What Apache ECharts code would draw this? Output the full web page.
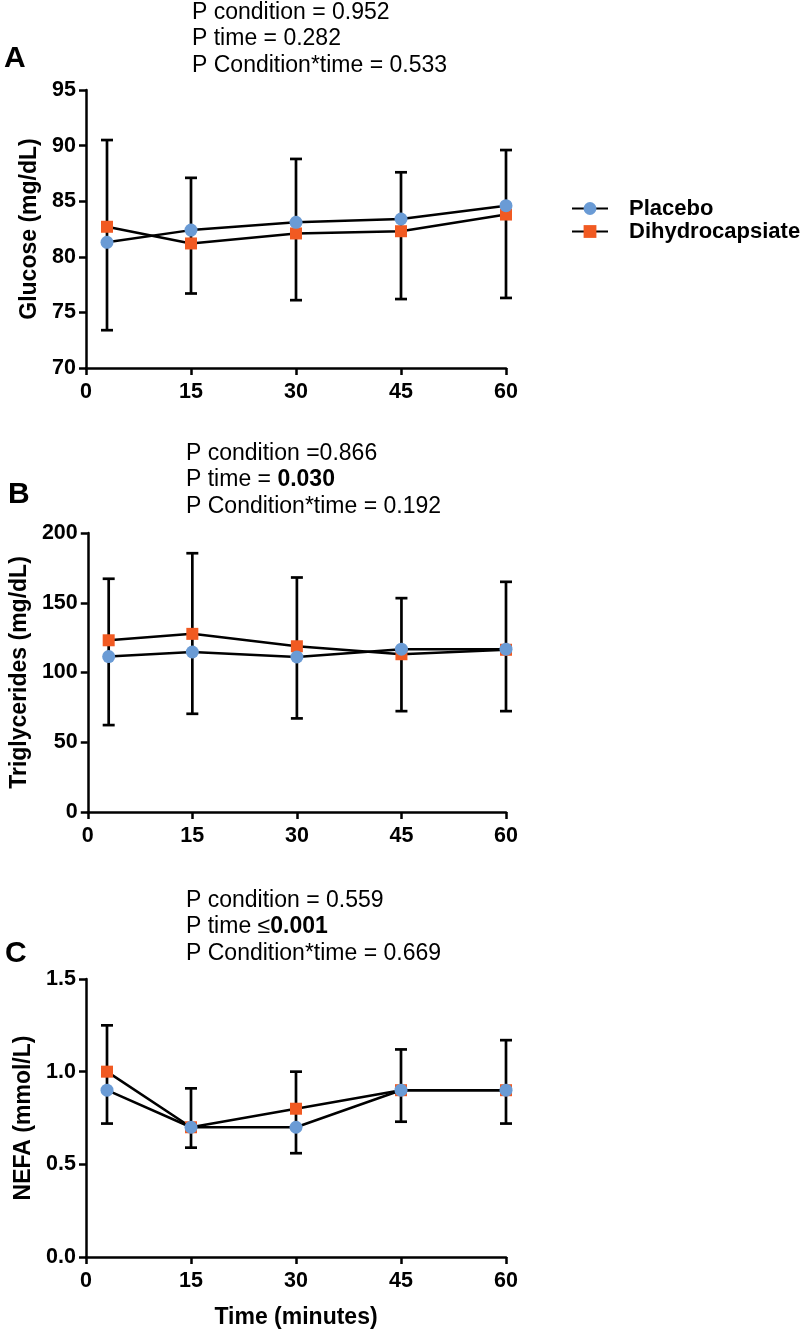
<!DOCTYPE html>
<html>
<head>
<meta charset="utf-8">
<script src="https://cdn.jsdelivr.net/npm/echarts@6/dist/echarts.min.js"></script>
<style>
  html, body { margin: 0; padding: 0; background: #fff; }
  #main { width: 800px; height: 1332px; }
</style>
</head>
<body>
<div id="main"></div>
<script>
// time points (minutes)
var times = [3, 15, 30, 45, 60];
var xTicks = [0, 15, 30, 45, 60];

// A - glucose
var glucosePlacebo = [81.3, 82.4, 83.1, 83.4, 84.6];
var glucoseDihydro = [82.7, 81.2, 82.1, 82.3, 83.8];
var glucoseErrHigh = [90.5, 87.1, 88.8, 87.6, 89.6];
var glucoseErrLow = [73.4, 76.7, 76.1, 76.2, 76.3];

// B - triglycerides
var tgPlacebo = [111.4, 114.7, 111.1, 116.7, 116.7];
var tgDihydro = [123.1, 127.7, 118.8, 113.1, 116.3];
var tgErrHigh = [167.2, 185.5, 168.1, 153.3, 165.0];
var tgErrLow = [62.3, 70.4, 67.1, 72.3, 72.3];

// C - NEFA
var nefaPlacebo = [0.9, 0.7, 0.7, 0.9, 0.9];
var nefaDihydro = [1.0, 0.7, 0.8, 0.9, 0.9];
var nefaErrHigh = [1.25, 0.91, 1.0, 1.12, 1.17];
var nefaErrLow = [0.72, 0.59, 0.56, 0.73, 0.72];

var FONT = '"Liberation Sans", Arial, Helvetica, sans-serif';
var BLUE = '#6a9bd5';
var ORANGE = '#f15a22';

function pairs(ys) {
  return times.map(function (t, i) { return [t, ys[i]]; });
}
function errData(lo, hi) {
  return times.map(function (t, i) { return [t, lo[i], hi[i]]; });
}

// vertical error bar with caps
function renderErr(params, api) {
  var x = api.value(0);
  var lo = api.coord([x, api.value(1)]);
  var hi = api.coord([x, api.value(2)]);
  var w = 6;
  var st = { stroke: '#000', lineWidth: 2.7 };
  return {
    type: 'group',
    children: [
      { type: 'line', shape: { x1: lo[0], y1: lo[1], x2: hi[0], y2: hi[1] }, style: st },
      { type: 'line', shape: { x1: hi[0] - w, y1: hi[1], x2: hi[0] + w, y2: hi[1] }, style: st },
      { type: 'line', shape: { x1: lo[0] - w, y1: lo[1], x2: lo[0] + w, y2: lo[1] }, style: st }
    ]
  };
}

var axisLineStyle = { lineStyle: { color: '#000', width: 2.5 } };
var tickStyle = { show: true, inside: false, length: 7, lineStyle: { color: '#000', width: 2.5 } };
var labelStyle = { color: '#000', fontFamily: FONT, fontWeight: 'bold', fontSize: 21.5 };

function makeX(idx, withName) {
  return {
    type: 'value', gridIndex: idx, min: 0, max: 60, interval: 15,
    axisLine: axisLineStyle, axisTick: tickStyle,
    axisLabel: Object.assign({ margin: 13, customValues: xTicks }, labelStyle),
    splitLine: { show: false },
    name: withName ? 'Time (minutes)' : '',
    nameLocation: 'middle', nameGap: 49,
    nameTextStyle: { color: '#000', fontFamily: FONT, fontWeight: 'bold', fontSize: 23 }
  };
}
function makeY(idx, min, max, interval, name, gap, digits) {
  return {
    type: 'value', gridIndex: idx, min: min, max: max, interval: interval,
    axisLine: Object.assign({ show: true }, axisLineStyle), axisTick: tickStyle,
    axisLabel: Object.assign({
      margin: 10,
      formatter: function (v) { return digits ? v.toFixed(digits) : String(v); }
    }, labelStyle),
    splitLine: { show: false },
    name: name, nameLocation: 'middle', nameRotate: 90, nameGap: gap,
    nameTextStyle: { color: '#000', fontFamily: FONT, fontWeight: 'bold', fontSize: 23 }
  };
}

function panelSeries(idx, placebo, dihydro, lo, hi) {
  return [
    {
      type: 'custom', xAxisIndex: idx, yAxisIndex: idx, z: 1,
      renderItem: renderErr, data: errData(lo, hi), silent: true
    },
    {
      name: 'Dihydrocapsiate', type: 'line', xAxisIndex: idx, yAxisIndex: idx, z: 2,
      data: pairs(dihydro), symbol: 'rect', symbolSize: 12,
      itemStyle: { color: ORANGE },
      lineStyle: { color: '#000', width: 2.5 }
    },
    {
      name: 'Placebo', type: 'line', xAxisIndex: idx, yAxisIndex: idx, z: 3,
      data: pairs(placebo), symbol: 'circle', symbolSize: 13,
      itemStyle: { color: BLUE },
      lineStyle: { color: '#000', width: 2.5 }
    }
  ];
}

function pText(x, y, lines) {
  return lines.map(function (s, i) {
    return {
      type: 'text', left: x, top: y + i * 26.5,
      style: {
        text: s, fill: '#000', font: '23px ' + FONT,
        rich: { b: { fontWeight: 'bold', fontSize: 23, fontFamily: FONT, fill: '#000' } }
      }
    };
  });
}
function letter(x, y, s) {
  return {
    type: 'text', left: x, top: y,
    style: { text: s, fill: '#000', font: 'bold 30px ' + FONT }
  };
}

var chart = echarts.init(document.getElementById('main'), null, { renderer: 'canvas' });
var option = {
  backgroundColor: '#fff',
  animation: false,
  grid: [
    { left: 86, width: 420, top: 90, height: 278 },
    { left: 86, width: 420, top: 533, height: 279 },
    { left: 86, width: 420, top: 979, height: 278 }
  ],
  xAxis: [makeX(0, false), makeX(1, false), makeX(2, true)],
  yAxis: [
    makeY(0, 70, 95, 5, 'Glucose (mg/dL)', 44, 0),
    makeY(1, 0, 200, 50, 'Triglycerides (mg/dL)', 55, 0),
    makeY(2, 0, 1.5, 0.5, 'NEFA (mmol/L)', 47, 1)
  ],
  legend: {
    data: ['Placebo', 'Dihydrocapsiate'],
    orient: 'vertical', left: 566, top: 192,
    itemWidth: 36, itemHeight: 16, itemGap: 0,
    textStyle: { color: '#000', fontFamily: FONT, fontWeight: 'bold', fontSize: 22, lineHeight: 23, padding: [0, 0, 0, 16] }
  },
  graphic: [].concat(
    pText(192, 1, ['P condition = 0.952', 'P time = 0.282', 'P Condition*time = 0.533']),
    pText(186, 442, ['P condition =0.866', 'P time = {b|0.030}', 'P Condition*time = 0.192']),
    pText(186, 889, ['P condition = 0.559', 'P time \u2264{b|0.001}', 'P Condition*time = 0.669']),
    [letter(4, 44, 'A'), letter(8, 480, 'B'), letter(5, 939, 'C')]
  ),
  series: [].concat(
    panelSeries(0, glucosePlacebo, glucoseDihydro, glucoseErrLow, glucoseErrHigh),
    panelSeries(1, tgPlacebo, tgDihydro, tgErrLow, tgErrHigh),
    panelSeries(2, nefaPlacebo, nefaDihydro, nefaErrLow, nefaErrHigh)
  )
};
chart.setOption(option);
</script>
</body>
</html>
